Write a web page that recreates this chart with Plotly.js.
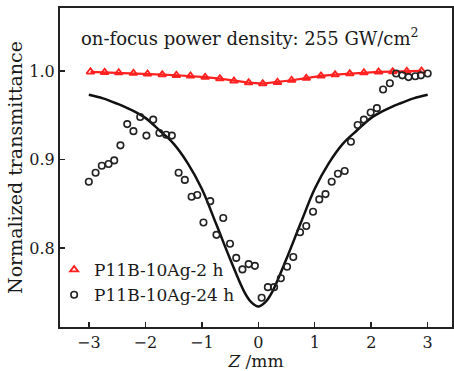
<!DOCTYPE html>
<html><head><meta charset="utf-8">
<script src="https://cdn.plot.ly/plotly-3.0.1.min.js"></script>
<style>html,body{margin:0;padding:0;background:#fff;}#chart{width:454px;height:371px;}</style>
</head><body><div id="chart"></div>
<script>
// Red series (2 h)
const zRed = [-2.97,-2.72,-2.47,-2.21,-1.96,-1.70,-1.45,-1.20,-0.94,-0.68,-0.43,-0.17,0.08,0.34,0.59,0.85,1.11,1.36,1.62,1.87,2.13,2.38,2.63,2.89];
const tRed = [0.999,0.9985,0.998,0.9974,0.9966,0.9958,0.9951,0.9944,0.9929,0.9913,0.9887,0.9868,0.9856,0.9872,0.9895,0.9918,0.9944,0.9958,0.9969,0.998,0.9989,0.9992,0.9997,1.000];
// Black series (24 h)
const zBlack = [-3.00,-2.88,-2.77,-2.65,-2.55,-2.44,-2.32,-2.21,-2.09,-1.98,-1.86,-1.75,-1.63,-1.53,-1.41,-1.30,-1.18,-1.08,-0.97,-0.85,-0.74,-0.62,-0.50,-0.39,-0.28,-0.17,-0.06,0.06,0.17,0.28,0.40,0.51,0.62,0.74,0.85,0.97,1.08,1.19,1.30,1.41,1.53,1.64,1.76,1.87,1.99,2.10,2.21,2.33,2.44,2.55,2.66,2.78,2.88,3.00];
const tBlack = [0.875,0.885,0.893,0.895,0.899,0.916,0.940,0.932,0.948,0.927,0.945,0.930,0.928,0.927,0.885,0.877,0.858,0.860,0.829,0.853,0.815,0.834,0.805,0.789,0.776,0.782,0.780,0.744,0.756,0.756,0.766,0.779,0.790,0.818,0.825,0.841,0.855,0.861,0.875,0.884,0.887,0.920,0.939,0.945,0.953,0.958,0.979,0.986,0.997,0.995,0.993,0.994,0.995,0.997];
// Fitted curve
const zFit = [-3,-2.75,-2.5,-2.25,-2,-1.75,-1.5,-1.25,-1,-0.75,-0.5,-0.25,-0.125,0,0.125,0.25,0.5,0.75,1,1.25,1.5,1.75,2,2.25,2.5,2.75,3];
const tFit = [0.973,0.969,0.963,0.956,0.947,0.933,0.918,0.896,0.867,0.828,0.788,0.751,0.739,0.734,0.739,0.751,0.788,0.828,0.867,0.896,0.918,0.933,0.947,0.956,0.963,0.969,0.973];
const xTicks = [-3,-2,-1,0,1,2,3];
const yTicks = [0.8,0.9,1.0];

const F = 'DejaVu Serif, serif';
const C = '#1a1a1a';
const data = [
  {x: zFit, y: tFit, mode:'lines', line:{color:'#111', width:2.5, shape:'spline'}, showlegend:false, hoverinfo:'skip'},
  {x: zRed, y: tRed, mode:'lines', line:{color:'#ff2020', width:2.2}, showlegend:false, hoverinfo:'skip'},
  {x: zRed, y: tRed, mode:'markers', name:'P11B-10Ag-2 h', marker:{symbol:'triangle-up-open', size:7, color:'#ff2020', line:{width:1.8, color:'#ff2020'}}},
  {x: zBlack, y: tBlack, mode:'markers', name:'P11B-10Ag-24 h', marker:{symbol:'circle-open', size:6.5, color:'#222', line:{width:1.6, color:'#222'}}}
];
const layout = {
  width:454, height:371,
  margin:{l:60, r:2, t:8, b:44},
  paper_bgcolor:'#fff', plot_bgcolor:'#fff',
  font:{family:F, size:16, color:C},
  showlegend:true,
  legend:{x:-0.015, y:0.235, xanchor:'left', yanchor:'top', bgcolor:'rgba(0,0,0,0)', font:{family:F, size:17, color:C}, tracegroupgap:0, itemwidth:30},
  xaxis:{range:[-3.51,3.43], tickvals:xTicks, ticktext:xTicks.map(v=>v<0?'\u2212'+Math.abs(v):String(v)), ticks:'inside', ticklen:5, tickwidth:1.5, tickcolor:'#222', showline:true, linecolor:'#222', linewidth:2, mirror:true, showgrid:false, zeroline:false, tickfont:{family:F, size:16, color:C}, title:{text:'<i>Z</i> /mm', font:{family:F, size:17, color:C}, standoff:2}},
  yaxis:{range:[0.711,1.071], tickvals:yTicks, ticktext:yTicks.map(v=>v.toFixed(1)), ticks:'inside', ticklen:5, tickwidth:1.5, tickcolor:'#222', showline:true, linecolor:'#222', linewidth:2, mirror:true, showgrid:false, zeroline:false, tickfont:{family:F, size:16, color:C}, title:{text:'Normalized transmittance', font:{family:F, size:19, color:C}, standoff:2}},
  annotations:[{xref:'paper', yref:'paper', x:0.048, y:0.91, xanchor:'left', yanchor:'middle', showarrow:false, text:'on-focus power density: 255 GW/cm<sup>2</sup>', font:{family:F, size:18, color:C}}]
};
Plotly.newPlot('chart', data, layout, {displayModeBar:false, staticPlot:true});
</script></body></html>
